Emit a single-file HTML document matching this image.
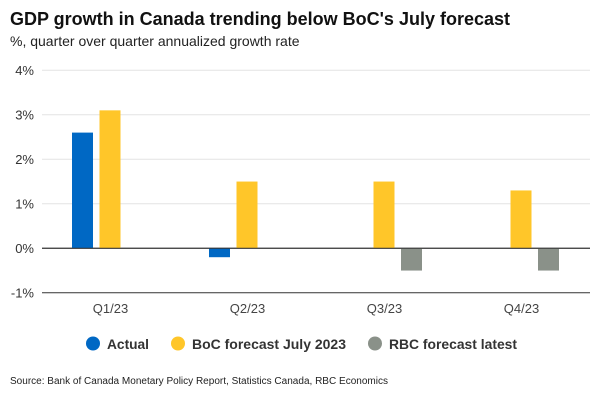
<!DOCTYPE html>
<html><head><meta charset="utf-8"><style>
html,body{margin:0;padding:0;background:#fff;}
svg text{font-family:"Liberation Sans",Arial,sans-serif;}
</style></head><body>
<svg id="chart" width="600" height="400" viewBox="0 0 600 400" xmlns="http://www.w3.org/2000/svg">
<text x="10" y="25" font-size="18" font-weight="bold" fill="#111" textLength="500" lengthAdjust="spacingAndGlyphs">GDP growth in Canada trending below BoC's July forecast</text>
<text x="10" y="46" font-size="14" fill="#222">%, quarter over quarter annualized growth rate</text>
<g id="grid"></g>
<g id="bars"></g>
<g id="xlabels"></g>
<g>
<circle cx="93" cy="343.5" r="7" fill="#0068C4"/>
<text x="107" y="349" font-size="14" font-weight="bold" fill="#333" textLength="42" lengthAdjust="spacingAndGlyphs">Actual</text>
<circle cx="178" cy="343.5" r="7" fill="#FFC629"/>
<text x="192" y="349" font-size="14" font-weight="bold" fill="#333" textLength="154" lengthAdjust="spacingAndGlyphs">BoC forecast July 2023</text>
<circle cx="375" cy="343.5" r="7" fill="#8A9189"/>
<text x="389" y="349" font-size="14" font-weight="bold" fill="#333" textLength="128" lengthAdjust="spacingAndGlyphs">RBC forecast latest</text>
</g>
<text x="10" y="384" font-size="10" fill="#222" textLength="378" lengthAdjust="spacingAndGlyphs">Source: Bank of Canada Monetary Policy Report, Statistics Canada, RBC Economics</text>
</svg>
<script>
const categories = ["Q1/23","Q2/23","Q3/23","Q4/23"];
const actual = [2.6, -0.2, null, null];
const boc = [3.1, 1.5, 1.5, 1.3];
const rbc = [null, null, -0.5, -0.5];
const yTicks = [-1,0,1,2,3,4];
const NS="http://www.w3.org/2000/svg";
const x0=42, band=137, y0=248.3, pxPer=44.5;
function y(v){return y0 - v*pxPer;}
function bandStart(i){return x0 + i*band;}
const grid=document.getElementById('grid');
yTicks.forEach(t=>{
  const l=document.createElementNS(NS,'line');
  l.setAttribute('x1',42);l.setAttribute('x2',590);
  l.setAttribute('y1',y(t));l.setAttribute('y2',y(t));
  l.setAttribute('stroke', (t===0||t===-1)?'#333':'#e3e3e3');
  
  
  grid.appendChild(l);
  const tx=document.createElementNS(NS,'text');
  tx.setAttribute('x',34);tx.setAttribute('y',y(t)+4.5);
  tx.setAttribute('text-anchor','end');tx.setAttribute('font-size','13');tx.setAttribute('fill','#333');
  tx.textContent=t+'%';
  
  
  grid.appendChild(tx);
});
const series=[[actual,'#0068C4','actual'],[boc,'#FFC629','boc'],[rbc,'#8A9189','rbc']];
const bars=document.getElementById('bars');
categories.forEach((c,i)=>{
  series.forEach(([vals,col,nm],s)=>{
    const v=vals[i]; if(v===null) return;
    const r=document.createElementNS(NS,'rect');
    const bx=bandStart(i)+30+s*27.5;
    r.setAttribute('x',bx);r.setAttribute('width',21);
    r.setAttribute('y',Math.min(y(v),y(0)));r.setAttribute('height',Math.abs(y(v)-y(0)));
    r.setAttribute('fill',col);
    
    
    bars.appendChild(r);
  });
  const t=document.createElementNS(NS,'text');
  t.setAttribute('x',bandStart(i)+band/2);t.setAttribute('y',313);
  t.setAttribute('text-anchor','middle');t.setAttribute('font-size','13');t.setAttribute('fill','#444');
  t.textContent=c;
  
  
  document.getElementById('xlabels').appendChild(t);
});
const z=document.createElementNS(NS,'line');
z.setAttribute('x1',42);z.setAttribute('x2',590);z.setAttribute('y1',y(0));z.setAttribute('y2',y(0));z.setAttribute('stroke','#333');


bars.appendChild(z);
</script>
</body></html>
